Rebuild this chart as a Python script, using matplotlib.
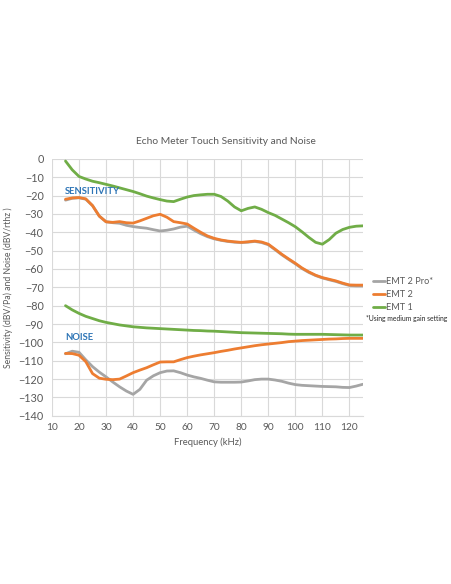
import matplotlib
matplotlib.use("Agg")
import matplotlib.pyplot as plt
import numpy as np

plt.rcParams['font.family'] = ['Lato', 'DejaVu Sans']

# frequency points (kHz), read every 2.5 kHz
freq = [15, 17.5, 20, 22.5, 25, 27.5, 30, 32.5, 35, 37.5, 40, 42.5, 45, 47.5, 50, 52.5,
        55, 57.5, 60, 62.5, 65, 67.5, 70, 72.5, 75, 77.5, 80, 82.5, 85, 87.5, 90, 92.5,
        95, 97.5, 100, 102.5, 105, 107.5, 110, 112.5, 115, 117.5, 120, 122.5, 125]

# sensitivity (dBV/Pa)
sens_emt2pro = [-22.5, -21.5, -21.2, -22.0, -25.5, -31.2, -34.3, -34.8, -35.1, -36.2, -36.9, -37.4,
                -37.8, -38.6, -39.3, -38.9, -38.2, -37.2, -36.7, -38.8, -40.8, -42.4, -43.6, -44.4,
                -45.0, -45.4, -45.6, -45.4, -45.0, -45.6, -46.8, -49.5, -52.3, -54.8, -57.2, -59.8,
                -61.9, -63.6, -64.9, -65.9, -66.8, -68.0, -69.0, -69.2, -69.2]
sens_emt2 = [-22.0, -21.3, -21.1, -21.8, -25.5, -31.2, -34.3, -34.6, -34.2, -34.8, -35.0, -33.8,
             -32.4, -31.0, -30.2, -31.8, -34.2, -34.8, -35.5, -37.8, -40.0, -42.0, -43.3, -44.2,
             -44.8, -45.2, -45.5, -45.2, -44.8, -45.3, -46.5, -49.2, -52.0, -54.5, -56.9, -59.5,
             -61.6, -63.4, -64.7, -65.6, -66.5, -67.7, -68.7, -68.8, -68.8]
sens_emt1 = [-1.2, -6.0, -9.6, -11.0, -12.2, -13.0, -13.9, -14.8, -15.8, -16.8, -17.8, -19.0,
             -20.3, -21.3, -22.2, -23.0, -23.3, -22.0, -20.8, -20.0, -19.6, -19.3, -19.3, -20.5,
             -23.0, -26.2, -28.3, -27.0, -26.2, -27.5, -29.3, -30.8, -32.8, -34.8, -37.0, -39.8,
             -42.8, -45.5, -46.5, -44.0, -40.5, -38.5, -37.3, -36.7, -36.5]

# noise (dBV/rthz)
noise_emt2pro = [-106.2, -104.8, -105.4, -109.5, -113.2, -116.2, -118.8, -121.6, -124.2, -126.5,
                 -128.3, -125.6, -120.6, -118.2, -116.5, -115.6, -115.5, -116.5, -117.8, -118.8,
                 -119.6, -120.6, -121.5, -121.7, -121.7, -121.7, -121.6, -121.0, -120.3, -120.0,
                 -120.0, -120.5, -121.2, -122.2, -123.0, -123.4, -123.6, -123.8, -124.0, -124.1,
                 -124.2, -124.5, -124.6, -123.8, -122.8]
noise_emt2 = [-106.0, -106.1, -107.0, -110.5, -117.0, -119.5, -120.1, -120.3, -120.0, -118.3,
              -116.5, -115.1, -113.8, -112.2, -110.7, -110.6, -110.6, -109.4, -108.3, -107.5,
              -106.8, -106.2, -105.6, -104.9, -104.3, -103.6, -103.0, -102.4, -101.8, -101.3,
              -100.9, -100.5, -100.1, -99.6, -99.3, -99.0, -98.8, -98.6, -98.4, -98.2,
              -98.1, -97.9, -97.8, -97.8, -97.8]
noise_emt1 = [-80.0, -82.3, -84.2, -85.8, -87.0, -88.2, -89.1, -89.8, -90.5, -91.0, -91.5, -91.8,
              -92.1, -92.3, -92.5, -92.7, -92.9, -93.1, -93.3, -93.5, -93.6, -93.8, -93.9, -94.1,
              -94.3, -94.5, -94.7, -94.8, -94.9, -95.0, -95.1, -95.2, -95.3, -95.5, -95.6, -95.6,
              -95.6, -95.6, -95.6, -95.7, -95.8, -95.9, -96.0, -96.0, -96.0]

series_names = ["EMT 2 Pro*", "EMT 2", "EMT 1"]
series_colors = ["#A5A5A5", "#ED7D31", "#70AD47"]

fig = plt.figure(figsize=(4.52, 5.84), dpi=100)
ax = fig.add_axes([0.115, 0.288, 0.688, 0.44])

text_col = "#595959"
sens = [sens_emt2pro, sens_emt2, sens_emt1]
noise = [noise_emt2pro, noise_emt2, noise_emt1]
for s, n, name, c in zip(sens, noise, series_names, series_colors):
    ax.plot(freq, s, color=c, lw=2.0, label=name, solid_capstyle="round", solid_joinstyle="round")
    ax.plot(freq, n, color=c, lw=2.0, solid_capstyle="round", solid_joinstyle="round")

ax.set_xlim(10, 125)
ax.set_ylim(-140, 0)
ax.set_xticks(np.arange(10, 121, 10))
ax.set_yticks(np.arange(-140, 1, 10))
ax.grid(True, color="#D9D9D9", lw=0.8)
ax.set_axisbelow(True)
for side in ["top", "right", "left"]:
    ax.spines[side].set_visible(False)
ax.spines["bottom"].set_color("#D9D9D9")
ax.tick_params(axis="y", length=0, labelsize=7.8, labelcolor=text_col, pad=6)
ax.tick_params(axis="x", length=0, labelsize=7.3, labelcolor=text_col, pad=5)

ax.set_xlabel("Frequency (kHz)", fontsize=6.8, color=text_col, labelpad=4)
ax.set_ylabel("Sensitivity (dBV/Pa) and Noise (dBV/rthz )", fontsize=6.2, color=text_col, labelpad=4)
fig.text(0.5, 1 - 142 / 584, "Echo Meter Touch Sensitivity and Noise", fontsize=7.4,
         color=text_col, ha="center", va="center")

ax.text(14.8, -17.8, "SENSITIVITY", color="#2E75B6", fontsize=6.8, fontweight="bold", va="center")
ax.text(14.9, -97.1, "NOISE", color="#2E75B6", fontsize=6.8, fontweight="bold", va="center")

leg = ax.legend(loc="upper left", bbox_to_anchor=(1.012, 0.565), frameon=False, fontsize=6.6,
                handlelength=1.3, handletextpad=0.1, labelspacing=0.45, borderaxespad=0.3)
for t in leg.get_texts():
    t.set_color(text_col)
fig.text(366 / 452, 1 - 319 / 584, "*Using medium gain setting", fontsize=4.9,
         color="#262626", va="center")

fig.savefig("out.png", dpi=100)
